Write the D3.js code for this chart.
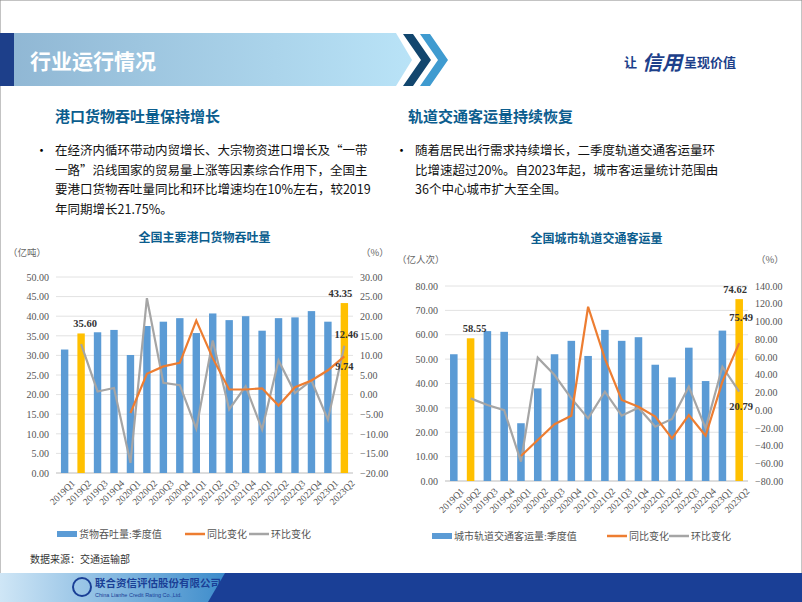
<!DOCTYPE html><html><head><meta charset="utf-8">
<script src="https://cdn.jsdelivr.net/npm/d3@7"></script>
<style>body{margin:0;background:#fff}svg{display:block}</style></head><body>
<script>
const quarters=["2019Q1","2019Q2","2019Q3","2019Q4","2020Q1","2020Q2","2020Q3","2020Q4","2021Q1","2021Q2","2021Q3","2021Q4","2022Q1","2022Q2","2022Q3","2022Q4","2023Q1","2023Q2"];
const portVol=[31.5,35.6,35.9,36.5,30.1,37.5,38.6,39.5,35.7,40.7,39.0,40.0,36.3,39.5,39.7,41.3,38.6,43.35];
const portYoY=[null,null,null,null,-4.7,5.3,7.2,8.1,18.9,9.3,1.3,1.3,1.6,-2.8,1.9,3.6,6.2,9.74];
const portQoQ=[null,12.9,0.8,1.7,-17.4,24.6,3.0,2.4,-8.7,13.8,-3.8,2.1,-8.9,8.7,0.4,3.6,-6.4,12.46];
const railVol=[52,58.55,61.5,61.2,23.7,38,52,57.5,51.3,62,57.5,59,47.7,42.5,54.7,41,61.7,74.62];
const railYoY=[null,null,null,null,-51.8,-33.8,-16,-6.3,116.6,58,11.4,3.8,-7.4,-31.9,-5.6,-28.9,32,75.49];
const railQoQ=[null,13.2,5.7,0,-58.2,59.1,39.5,13.2,-9.3,20.8,-6.3,2.7,-18.7,-10,26.4,-20.6,48.9,20.79];
const portLeftTicks=d3.range(0,50.01,5), portRightTicks=d3.range(-20,30.01,5);
const railLeftTicks=d3.range(0,80.01,10), railRightTicks=d3.range(-80,140.01,20);

const W=802,H=602,svg=d3.select("body").append("svg").attr("width",W).attr("height",H);
const CJK="'Noto Sans CJK SC',sans-serif", SER="'Liberation Serif',serif";
const defs=svg.append("defs");
const g1=defs.append("linearGradient").attr("id","hdr");
g1.append("stop").attr("offset","0").attr("stop-color","#8fb6d3");
g1.append("stop").attr("offset","1").attr("stop-color","#b9e3f7");
const g2=defs.append("linearGradient").attr("id","ftr");
g2.append("stop").attr("offset","0").attr("stop-color","#cfe6f6");
g2.append("stop").attr("offset","1").attr("stop-color","#3d8ccb");
svg.append("rect").attr("x",0).attr("y",0).attr("width",W).attr("height",H).attr("fill","#fff").attr("stroke","#888");
svg.append("path").attr("d","M0,33H396L412,60L396,86H0Z").attr("fill","url(#hdr)");
svg.append("rect").attr("x",0).attr("y",33).attr("width",14).attr("height",53).attr("fill","#1d3f8a");
svg.append("path").attr("d","M403,34H413L431,60L413,86H403L421,60Z").attr("fill","#12466e");
svg.append("path").attr("d","M420,34H430L448,60L430,86H420L438,60Z").attr("fill","#3f9bd0");
svg.append("text").attr("x",30).attr("y",69).attr("font-family",CJK).attr("font-weight","bold").attr("font-size",21).attr("fill","#fff").text("行业运行情况");
svg.append("text").attr("x",624).attr("y",67).attr("font-family",CJK).attr("font-size",13).attr("font-weight","bold").attr("fill","#1d3f8a").text("让");
svg.append("text").attr("x",642).attr("y",70).attr("font-family",CJK).attr("font-size",20).attr("font-style","italic").attr("font-weight","bold").attr("fill","#1d3f8a").text("信用");
svg.append("text").attr("x",684).attr("y",67).attr("font-family",CJK).attr("font-size",13).attr("font-weight","bold").attr("fill","#1d3f8a").text("呈现价值");
svg.append("rect").attr("x",0).attr("y",573).attr("width",W).attr("height",29).attr("fill","#1a3f96");
svg.append("path").attr("d","M0,573H225L208,602H0Z").attr("fill","url(#ftr)");
svg.append("circle").attr("cx",82).attr("cy",587).attr("r",9).attr("fill","none").attr("stroke","#1a3f96").attr("stroke-width",2);
svg.append("text").attr("x",95).attr("y",587).attr("font-family",CJK).attr("font-weight","bold").attr("font-size",10.5).attr("fill","#1a3f96").text("联合资信评估股份有限公司");
svg.append("text").attr("x",95).attr("y",597).attr("font-family","Arial,sans-serif").attr("font-size",5.5).attr("fill","#1a3f96").text("China Lianhe Credit Rating Co.,Ltd.");

function heading(x,t){svg.append("text").attr("x",x).attr("y",122).attr("font-family",CJK).attr("font-weight","bold").attr("font-size",15).attr("fill","#0b5d8e").text(t);}
heading(55,"港口货物吞吐量保持增长");heading(408,"轨道交通客运量持续恢复");
function para(x,lines){svg.append("text").attr("x",x-20).attr("y",155).attr("font-size",13).attr("font-family",CJK).text("•");
 lines.forEach((l,i)=>svg.append("text").attr("x",x).attr("y",155+i*19.5).attr("font-family",CJK).attr("font-size",12.5).attr("fill","#111").text(l));}
para(55,["在经济内循环带动内贸增长、大宗物资进口增长及“一带","一路”沿线国家的贸易量上涨等因素综合作用下，全国主","要港口货物吞吐量同比和环比增速均在10%左右，较2019","年同期增长21.75%。"]);
para(415,["随着居民出行需求持续增长，二季度轨道交通客运量环","比增速超过20%。自2023年起，城市客运量统计范围由","36个中心城市扩大至全国。"]);

function chart(o){
 const x=d3.scaleBand().domain(quarters).range([o.x0,o.x1]).paddingInner(0.55).paddingOuter(0.3);
 const yl=d3.scaleLinear().domain([o.lt[0],o.lt[o.lt.length-1]]).range([o.yb,o.yt]);
 const yr=d3.scaleLinear().domain([o.rt[0],o.rt[o.rt.length-1]]).range([o.yb,o.yt]);
 const g=svg.append("g");
 g.append("text").attr("x",(o.x0+o.x1)/2).attr("y",o.ty).attr("text-anchor","middle").attr("font-family",CJK).attr("font-weight","bold").attr("font-size",12).attr("fill","#0b5d8e").text(o.title);
 g.append("text").attr("x",o.x0-48).attr("y",o.uy).attr("font-family",CJK).attr("font-size",9.5).attr("fill","#666").text(o.unit);
 g.append("text").attr("x",o.x1+8).attr("y",o.uy).attr("font-family",CJK).attr("font-size",9.5).attr("fill","#666").text("（%）");
 o.lt.forEach(t=>g.append("line").attr("x1",o.x0).attr("x2",o.x1).attr("y1",yl(t)).attr("y2",yl(t)).attr("stroke",t===0?"#bbb":"#e2e2e2"));
 const ax=g.append("g").attr("transform",`translate(${o.x0-4},0)`).call(d3.axisLeft(yl).tickValues(o.lt).tickFormat(d3.format(".2f")).tickSize(0));
 const ar=g.append("g").attr("transform",`translate(${o.x1+4},0)`).call(d3.axisRight(yr).tickValues(o.rt).tickFormat(d3.format(".2f")).tickSize(0));
 [ax,ar].forEach(a=>{a.select(".domain").remove();a.selectAll("text").attr("font-family",SER).attr("font-size",10).attr("fill","#555");});
 const xa=g.append("g").attr("transform",`translate(0,${o.yb})`).call(d3.axisBottom(x).tickSize(0));
 xa.select(".domain").remove();
 xa.selectAll("text").attr("font-family",SER).attr("font-size",9.5).attr("fill","#555").attr("text-anchor","end").attr("transform","translate(4,4) rotate(-45)");
 g.selectAll("rect.b").data(o.vol).join("rect").attr("x",(d,i)=>x(quarters[i])).attr("width",x.bandwidth()).attr("y",d=>yl(d)).attr("height",d=>o.yb-yl(d)).attr("fill",(d,i)=>(i===1||i===17)?"#ffc000":"#5b9bd5");
 const ln=d3.line().defined(d=>d!=null).x((d,i)=>x(quarters[i])+x.bandwidth()/2).y(d=>yr(d));
 g.append("path").attr("d",ln(o.qoq)).attr("fill","none").attr("stroke","#a5a5a5").attr("stroke-width",2.2);
 g.append("path").attr("d",ln(o.yoy)).attr("fill","none").attr("stroke","#ed7d31").attr("stroke-width",2.2);
 const lab=(t,xx,yy)=>g.append("text").attr("x",xx).attr("y",yy).attr("text-anchor","middle").attr("font-family",SER).attr("font-weight","bold").attr("font-size",10.5).attr("fill","#333").text(t);
 const cx=i=>x(quarters[i])+x.bandwidth()/2;
 lab(o.vol[1].toFixed(2),cx(1)+4,yl(o.vol[1])-6);
 lab(o.vol[17].toFixed(2),cx(17)-4,yl(o.vol[17])-6);
 lab(o.lab1.t,cx(17)+o.lab1.dx,yr(o.lab1.v)+o.lab1.dy);
 lab(o.lab2.t,cx(17)+o.lab2.dx,yr(o.lab2.v)+o.lab2.dy);
 const ly=o.ly;let lx=o.lx;
 [[o.legend,"#5b9bd5",o.lg[0]],["同比变化","#ed7d31",o.lg[1]],["环比变化","#a5a5a5",o.lg[2]]].forEach(([t,c,w],i)=>{
  if(i===0)g.append("rect").attr("x",lx).attr("y",ly-6).attr("width",20).attr("height",6).attr("fill",c);
  else g.append("line").attr("x1",lx).attr("x2",lx+20).attr("y1",ly-3).attr("y2",ly-3).attr("stroke",c).attr("stroke-width",2.5);
  g.append("text").attr("x",lx+22).attr("y",ly+1).attr("font-family",SER+","+CJK).attr("font-size",10).attr("fill","#555").text(t);
  lx+=w;});
}
chart({x0:56,x1:353,yb:473,yt:277,ty:242,uy:256,title:"全国主要港口货物吞吐量",unit:"（亿吨）",lt:portLeftTicks,rt:portRightTicks,vol:portVol,yoy:portYoY,qoq:portQoQ,
 lab1:{t:"12.46",v:12.46,dx:2,dy:-8},lab2:{t:"9.74",v:9.74,dx:0,dy:14},legend:"货物吞吐量:季度值",lx:57,ly:537,lg:[128,64,0]});
chart({x0:445,x1:748,yb:481,yt:286,ty:243,uy:263,title:"全国城市轨道交通客运量",unit:"（亿人次）",lt:railLeftTicks,rt:railRightTicks,vol:railVol,yoy:railYoY,qoq:railQoQ,
 lab1:{t:"75.49",v:75.49,dx:2,dy:-22},lab2:{t:"20.79",v:20.79,dx:2,dy:18},legend:"城市轨道交通客运量:季度值",lx:432,ly:539,lg:[175,62,0]});
svg.append("text").attr("x",30).attr("y",563).attr("font-family",SER+","+CJK).attr("font-size",10).attr("fill","#333").text("数据来源：交通运输部");
</script></body></html>
